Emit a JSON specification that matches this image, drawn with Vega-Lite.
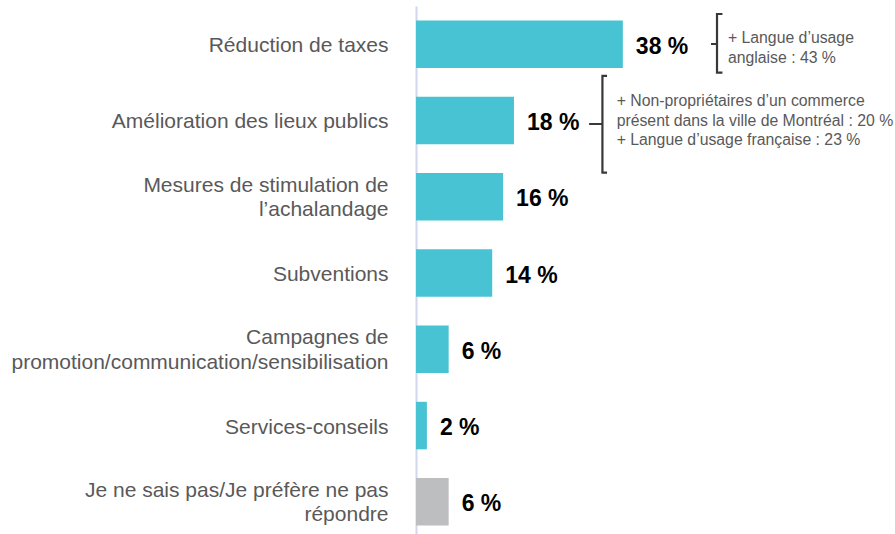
{
  "$schema": "https://vega.github.io/schema/vega-lite/v6.json",
  "width": 479,
  "height": 534,
  "autosize": {"type": "none"},
  "padding": {"left": 416, "top": 6, "right": 0, "bottom": 0},
  "background": "white",
  "config": {"view": {"stroke": null}, "font": "Liberation Sans"},
  "datasets": {
    "bars": [
      {"cat": "Réduction de taxes", "value": 38, "label": "38 %", "grp": "main"},
      {"cat": "Amélioration des lieux publics", "value": 18, "label": "18 %", "grp": "main"},
      {"cat": "Mesures de stimulation de|l’achalandage", "value": 16, "label": "16 %", "grp": "main"},
      {"cat": "Subventions", "value": 14, "label": "14 %", "grp": "main"},
      {"cat": "Campagnes de|promotion/communication/sensibilisation", "value": 6, "label": "6 %", "grp": "main"},
      {"cat": "Services-conseils", "value": 2, "label": "2 %", "grp": "main"},
      {"cat": "Je ne sais pas/Je préfère ne pas|répondre", "value": 6, "label": "6 %", "grp": "other"}
    ],
    "brackets": [
      {"id": 1, "o": 1, "bx": 56.3, "by": 0.105},
      {"id": 1, "o": 2, "bx": 55.3, "by": 0.105},
      {"id": 1, "o": 3, "bx": 55.3, "by": 0.498},
      {"id": 1, "o": 4, "bx": 54.2, "by": 0.498},
      {"id": 1, "o": 5, "bx": 55.3, "by": 0.498},
      {"id": 1, "o": 6, "bx": 55.3, "by": 0.874},
      {"id": 1, "o": 7, "bx": 56.3, "by": 0.874},
      {"id": 2, "o": 1, "bx": 35.1, "by": 0.917},
      {"id": 2, "o": 2, "bx": 34.25, "by": 0.917},
      {"id": 2, "o": 3, "bx": 34.25, "by": 1.547},
      {"id": 2, "o": 4, "bx": 31.8, "by": 1.547},
      {"id": 2, "o": 5, "bx": 34.25, "by": 1.547},
      {"id": 2, "o": 6, "bx": 34.25, "by": 2.185},
      {"id": 2, "o": 7, "bx": 35.1, "by": 2.185}
    ],
    "notes": [
      {"nx": 57.3, "ny": 0.425, "txt": "+ Langue d’usage\nanglaise : 43 %"},
      {"nx": 36.86, "ny": 1.25, "txt": "+ Non-propriétaires d’un commerce\nprésent dans la ville de Montréal : 20 %\n+ Langue d’usage française : 23 %"}
    ]
  },
  "layer": [
    {
      "data": {"name": "bars"},
      "encoding": {
        "y": {
          "field": "cat",
          "type": "nominal",
          "sort": null,
          "scale": {"paddingInner": 0.377, "paddingOuter": 0.1885},
          "axis": {
            "title": null,
            "ticks": false,
            "domainColor": "#d0d7ee",
            "domainWidth": 2,
            "labelExpr": "split(datum.label, '|')",
            "labelFontSize": 21,
            "labelLineHeight": 24.5,
            "labelColor": "#595959",
            "labelPadding": 28,
            "labelAlign": "right",
            "labelBaseline": "middle",
            "labelOffset": {"condition": {"test": "indexof(datum.label, '|') >= 0", "value": -11}, "value": 2},
            "labelLimit": 500
          }
        },
        "x": {"field": "value", "type": "quantitative", "scale": {"domain": [0, 88]}, "axis": null}
      },
      "layer": [
        {
          "mark": {"type": "bar"},
          "encoding": {
            "color": {"field": "grp", "type": "nominal", "scale": {"domain": ["main", "other"], "range": ["#48c3d3", "#bdbec0"]}, "legend": null}
          }
        },
        {
          "mark": {"type": "text", "align": "left", "baseline": "middle", "dx": 13, "dy": 2.5, "fontSize": 23, "fontWeight": "bold", "color": "#000000"},
          "encoding": {"text": {"field": "label"}}
        }
      ]
    },
    {
      "data": {"name": "brackets"},
      "mark": {"type": "line", "color": "#383838", "strokeWidth": 2.2},
      "encoding": {
        "x": {"field": "bx", "type": "quantitative", "scale": {"domain": [0, 88]}, "axis": null},
        "y": {"field": "by", "type": "quantitative", "scale": {"domain": [0, 7], "reverse": true, "nice": false, "zero": false}, "axis": null},
        "detail": {"field": "id"},
        "order": {"field": "o"}
      }
    },
    {
      "data": {"name": "notes"},
      "mark": {"type": "text", "align": "left", "baseline": "middle", "lineBreak": "\n", "fontSize": 15.8, "lineHeight": 19.5, "color": "#595959"},
      "encoding": {
        "x": {"field": "nx", "type": "quantitative", "scale": {"domain": [0, 88]}, "axis": null},
        "y": {"field": "ny", "type": "quantitative", "scale": {"domain": [0, 7], "reverse": true, "nice": false, "zero": false}, "axis": null},
        "text": {"field": "txt"}
      }
    }
  ],
  "resolve": {"scale": {"y": "independent"}}
}
